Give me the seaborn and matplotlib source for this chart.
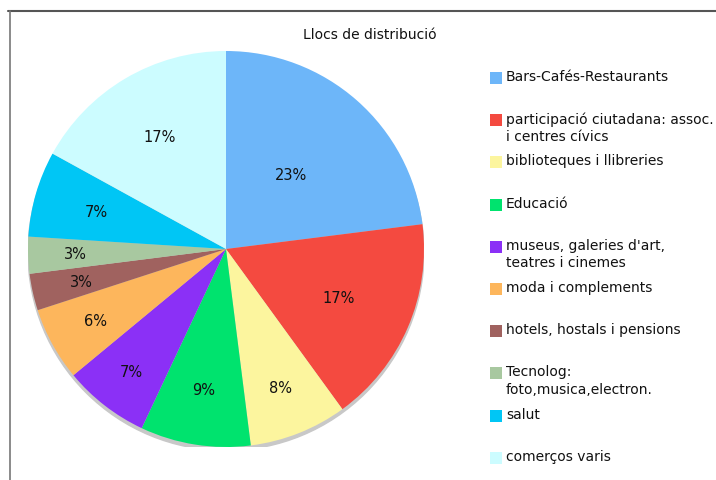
import matplotlib
matplotlib.use('Agg')
import matplotlib.pyplot as plt
from matplotlib.patches import Rectangle, Circle
from matplotlib.lines import Line2D
import seaborn as sns

# Data
categories = ['Bars-Cafés-Restaurants',
              'participació ciutadana: assoc.\ni centres cívics',
              'biblioteques i llibreries',
              'Educació',
              "museus, galeries d'art,\nteatres i cinemes",
              'moda i complements',
              'hotels, hostals i pensions',
              'Tecnolog:\nfoto,musica,electron.',
              'salut',
              'comerços varis']
values = [23, 17, 8, 9, 7, 6, 3, 3, 7, 17]
colors = ['#6db6f9', '#f44a40', '#fcf59e', '#00e36e', '#8b30f6',
          '#fdb65c', '#a0625f', '#a8c8a0', '#00c6f5', '#ccfcff']
# how far out each percentage label sits (fraction of radius)
label_dist = [0.50, 0.62, 0.75, 0.72, 0.78, 0.75, 0.75, 0.76, 0.68, 0.66]

sns.set_theme(style='white')
plt.rcParams['font.family'] = ['DejaVu Sans']

fig = plt.figure(figsize=(7.16, 4.81), dpi=100)
ax = fig.add_axes([28 / 716, 33 / 481, 396 / 716, 396 / 481])

# soft shadow under the pie
ax.add_patch(Circle((0, -0.018), 1.0, color='#c8c8c8', zorder=0))

wedges, texts, autotexts = ax.pie(values, colors=sns.color_palette(colors),
                                  startangle=90, counterclock=False,
                                  autopct='%d%%', pctdistance=1.0,
                                  wedgeprops=dict(linewidth=0),
                                  textprops=dict(fontsize=10.5, color='#111111'))
for t, d in zip(autotexts, label_dist):
    x, y = t.get_position()
    t.set_position((x * d, y * d))
ax.set_xlim(-1.0, 1.0)
ax.set_ylim(-1.0, 1.0)
ax.set_aspect('equal')
ax.axis('off')

fig.text(370 / 716, 1 - 35 / 481, 'Llocs de distribució', ha='center', va='center',
         fontsize=10, color='#111111')

# legend drawn by hand: square at each slot, text top-aligned
y0 = 79
step = 42.2
for i, (lab, col) in enumerate(zip(categories, colors)):
    yc = y0 + i * step
    fig.add_artist(Rectangle((490 / 716, 1 - (yc + 6) / 481), 12 / 716, 12 / 481,
                             transform=fig.transFigure, facecolor=col, edgecolor='none'))
    fig.text(506 / 716, 1 - (yc - 9) / 481, lab, ha='left', va='top',
             fontsize=10, color='#111111', linespacing=1.3)

# frame lines (top and left)
fig.add_artist(Line2D([8 / 716, 1.0], [1 - 12 / 481, 1 - 12 / 481],
                      transform=fig.transFigure, color='#555555', linewidth=1.5))
fig.add_artist(Line2D([10 / 716, 10 / 716], [1 - 12 / 481, 0.0],
                      transform=fig.transFigure, color='#777777', linewidth=1.2))

fig.savefig('out.png', dpi=100)
